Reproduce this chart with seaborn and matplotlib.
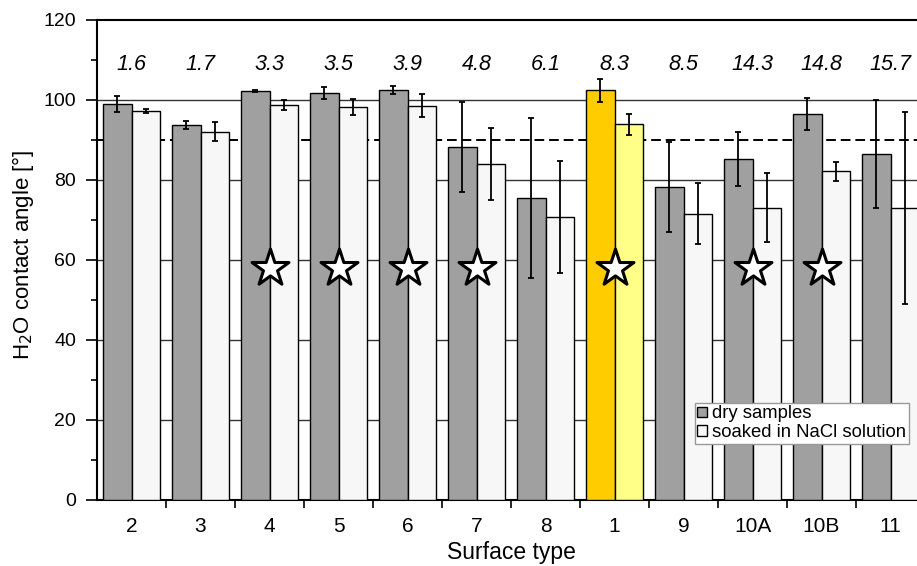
import pandas as pd
import matplotlib
matplotlib.use("Agg")
import matplotlib.pyplot as plt
import seaborn as sns

# Datos
superficies = ['2', '3', '4', '5', '6', '7', '8', '1', '9', '10A', '10B', '11']
seco = [98.9, 93.8, 102.2, 101.8, 102.6, 88.2, 75.4, 102.4, 78.2, 85.3, 96.4, 86.6]
seco_err = [2.0, 1.0, 0.3, 1.5, 1.0, 11.2, 20.0, 2.8, 11.3, 6.7, 4.0, 13.5]
remojado = [97.3, 92.1, 98.8, 98.2, 98.6, 83.9, 70.8, 93.9, 71.6, 73.1, 82.2, 72.9]
remojado_err = [0.5, 2.4, 1.3, 2.0, 2.9, 9.0, 14.0, 2.6, 7.7, 8.7, 2.4, 24.0]
rugosidad = ['1.6', '1.7', '3.3', '3.5', '3.9', '4.8', '6.1', '8.3', '8.5', '14.3', '14.8', '15.7']
con_estrella = ['4', '5', '6', '7', '1', '10A', '10B']
destacado = '1'

df = pd.DataFrame({
    'Superficie': superficies * 2,
    'Angulo': seco + remojado,
    'Estado': ['dry samples'] * len(superficies) + ['soaked in NaCl solution'] * len(superficies),
})

sns.set_style('white')
plt.rcParams['font.family'] = ['Liberation Sans', 'DejaVu Sans']
plt.rcParams['text.color'] = 'black'
plt.rcParams['axes.labelcolor'] = 'black'
plt.rcParams['xtick.color'] = 'black'
plt.rcParams['ytick.color'] = 'black'

fig = plt.figure(figsize=(9.17, 5.66), dpi=100)
fig.set_facecolor('white')
ax = fig.add_axes([97 / 917, 66 / 566, 828 / 917, 480 / 566])

sns.barplot(data=df, x='Superficie', y='Angulo', hue='Estado', order=superficies,
            palette=['#a0a0a0', '#f7f7f7'], edgecolor='black', linewidth=1,
            width=0.82, errorbar=None, ax=ax, zorder=3)

# Resaltar la superficie 1
idx = superficies.index(destacado)
ax.containers[0].patches[idx].set_facecolor('#ffcc00')
ax.containers[1].patches[idx].set_facecolor('#ffff88')

# Barras de error
for cont, errs in zip(ax.containers[:2], [seco_err, remojado_err]):
    xs = [p.get_x() + p.get_width() / 2 for p in cont.patches]
    ys = [p.get_height() for p in cont.patches]
    ax.errorbar(xs, ys, yerr=errs, fmt='none', ecolor='black', elinewidth=1.3,
                capsize=2.5, capthick=1.3, zorder=4)

# Estrellas
xs_est = [superficies.index(s) for s in con_estrella]
ax.scatter(xs_est, [58] * len(xs_est), marker='*', s=780, facecolor='white',
           edgecolor='black', linewidth=2.2, zorder=5)

# Valores de rugosidad arriba
for i, r in enumerate(rugosidad):
    ax.text(i, 108.9, r, ha='center', va='center', style='italic', fontsize=15.5)

# Líneas de referencia
for y in [20, 40, 60, 80, 100]:
    ax.axhline(y, color='#333333', linewidth=1, zorder=1)
ax.axhline(90, color='black', linestyle=(0, (5, 2.5)), linewidth=1.4, zorder=2)

ax.set_ylim(0, 120)
ax.set_xlim(-0.5, len(superficies) - 0.5)
ax.set_yticks(range(0, 121, 20))
ax.set_yticks(range(10, 120, 20), minor=True)
ax.tick_params(axis='y', which='major', direction='out', length=8, width=1.2,
               labelsize=14, pad=7, left=True)
ax.tick_params(axis='y', which='minor', direction='out', length=4, width=1.2, left=True)
ax.set_xticks(range(len(superficies)))
ax.set_xticklabels(superficies)
ax.set_xticks([i + 0.5 for i in range(len(superficies))], minor=True)
ax.tick_params(axis='x', which='major', length=0, labelsize=15, pad=12)
ax.tick_params(axis='x', which='minor', direction='out', length=6, width=1.2, bottom=True)

for s in ax.spines.values():
    s.set_color('black')
    s.set_linewidth(1.5)

ax.set_xlabel('Surface type', fontsize=16.5, labelpad=4)
ax.set_ylabel('H$_2$O contact angle [°]', fontsize=16)
ax.yaxis.set_label_coords(-0.074, 0.51)

leg = ax.legend(loc='lower right', bbox_to_anchor=(909 / 917, 122 / 566),
                bbox_transform=fig.transFigure, fontsize=13.3, fancybox=False,
                edgecolor='#999999', framealpha=1, handlelength=0.5,
                handleheight=0.5, handletextpad=0.3, borderpad=0.15,
                labelspacing=0.1, borderaxespad=0)
leg.get_frame().set_linewidth(1)

fig.savefig('out.png', dpi=100)
